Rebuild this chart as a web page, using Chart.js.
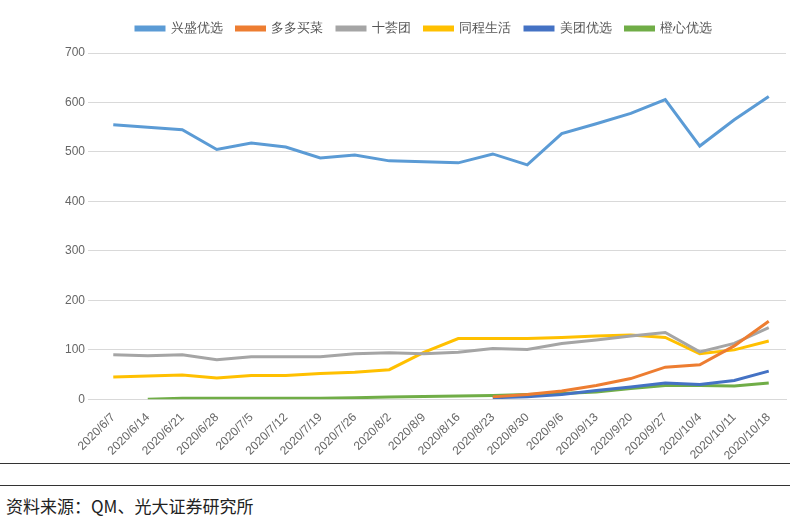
<!DOCTYPE html>
<html><head><meta charset="utf-8">
<script src="https://cdn.jsdelivr.net/npm/chart.js@4"></script>
<style>
body{margin:0;background:#fff;font-family:"Noto Sans CJK SC",sans-serif}
#wrap{position:absolute;left:0;top:0;width:790px;height:466px}
#l1{position:absolute;left:0;top:463px;width:790px;border-top:1px solid #333}
#l2{position:absolute;left:0;top:485px;width:790px;border-top:1px solid #333}
#src{position:absolute;left:6px;top:493px;font-size:17px;color:#222}
</style></head><body>
<div id="wrap"><canvas id="c"></canvas></div>
<div id="l1"></div><div id="l2"></div>
<div id="src">资料来源：QM、光大证券研究所</div>
<script>
const labels = ["2020/6/7","2020/6/14","2020/6/21","2020/6/28","2020/7/5","2020/7/12","2020/7/19","2020/7/26","2020/8/2","2020/8/9","2020/8/16","2020/8/23","2020/8/30","2020/9/6","2020/9/13","2020/9/20","2020/9/27","2020/10/4","2020/10/11","2020/10/18"];
const xingsheng = [555,550,545,505,518,510,488,494,482,480,478,496,474,537,557,578,606,512,565,612];
const duoduo = [null,null,null,null,null,null,null,null,null,null,null,5,10,17,28,42,65,70,108,158];
const shihuituan = [90,88,90,80,86,86,86,92,94,92,95,103,101,113,120,128,135,96,113,145];
const tongcheng = [45,47,49,43,48,48,52,55,60,95,123,123,123,125,128,130,125,92,100,118];
const meituan = [null,null,null,null,null,null,null,null,null,null,null,3,5,10,18,25,33,30,38,57];
const chengxin = [null,0,2,2,2,2,2,3,5,6,7,8,10,12,15,22,28,28,27,33];
const ds = (label,data,color)=>({label,data,borderColor:color,backgroundColor:color,borderWidth:3,pointRadius:0,tension:0,fill:false});
const legendPad = {id:"legendPad",beforeInit(chart){const f=chart.legend.fit;chart.legend.fit=function(){f.bind(chart.legend)();this.height+=8;};}};
new Chart(document.getElementById("c"),{
  type:"line",
  plugins:[legendPad],
  data:{labels,datasets:[
    ds("兴盛优选",xingsheng,"#5b9bd5"),
    ds("多多买菜",duoduo,"#ed7d31"),
    ds("十荟团",shihuituan,"#a5a5a5"),
    ds("同程生活",tongcheng,"#ffc000"),
    ds("美团优选",meituan,"#4472c4"),
    ds("橙心优选",chengxin,"#70ad47")
  ]},
  options:{responsive:true,maintainAspectRatio:false,animation:false,
    layout:{padding:{left:62,right:4,top:8,bottom:0}},
    plugins:{legend:{labels:{boxWidth:28,boxHeight:3,color:"#555",font:{size:13},padding:14}},tooltip:{enabled:false}},
    scales:{
      x:{offset:true,grid:{display:false},border:{color:"#d9d9d9"},ticks:{color:"#666",font:{size:12},maxRotation:45,minRotation:45,autoSkip:false}},
      y:{min:0,max:700,ticks:{stepSize:100,color:"#666",font:{size:12}},grid:{color:"#d9d9d9"},border:{display:false}}
    }}
});
</script></body></html>
